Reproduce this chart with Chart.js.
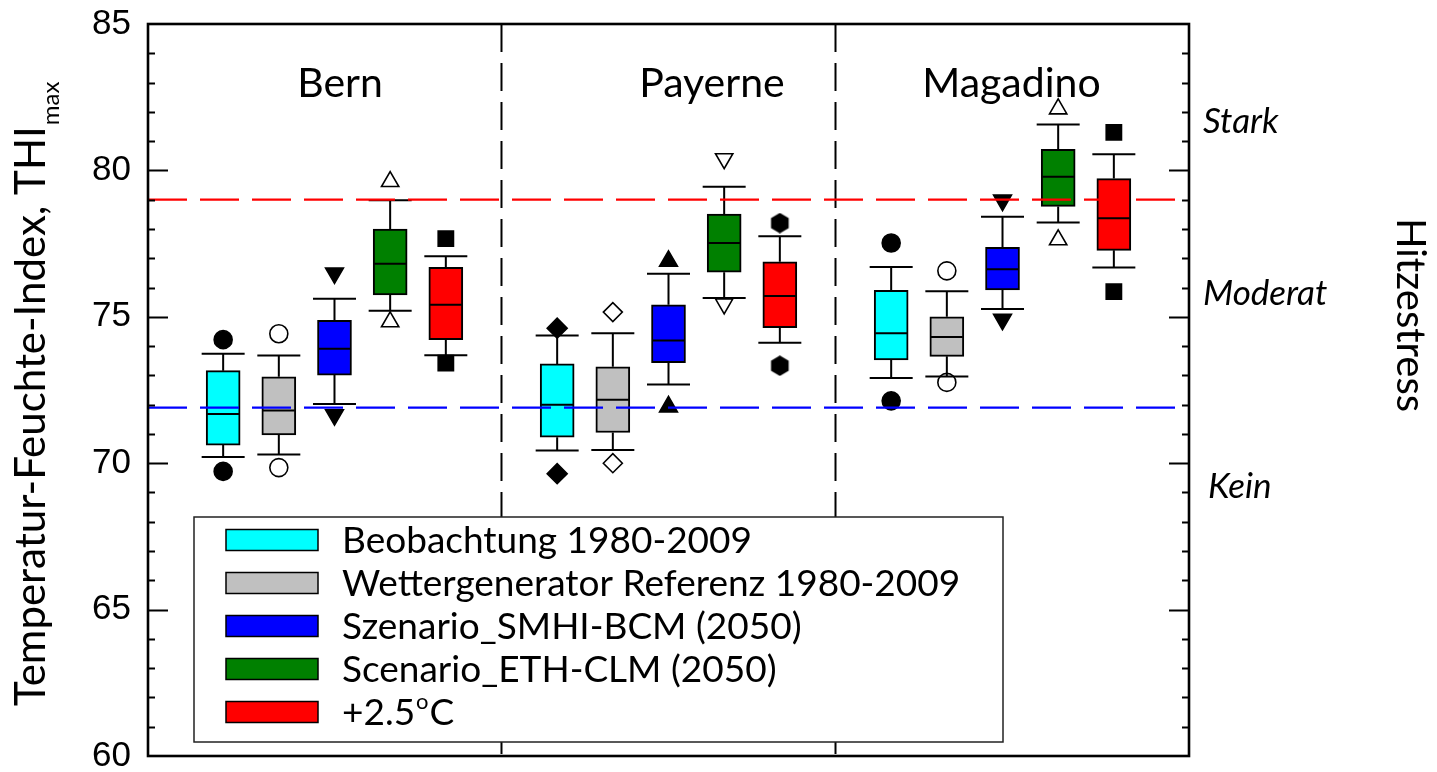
<!DOCTYPE html>
<html lang="de">
<head>
<meta charset="utf-8">
<title>Temperatur-Feuchte-Index THImax</title>
<script src="https://cdn.jsdelivr.net/npm/chart.js@4.4.1/dist/chart.umd.min.js"></script>
<style>
  html, body { margin: 0; padding: 0; background: #ffffff; }
  #wrap { width: 1437px; height: 772px; position: relative; }
</style>
</head>
<body>
<div id="wrap"><canvas id="thi" width="1437" height="772"></canvas></div>
<script>
// ---- data -----------------------------------------------------------------
const stations = ['Bern', 'Payerne', 'Magadino'];
const seriesNames = [
  'Beobachtung 1980-2009',
  'Wettergenerator Referenz 1980-2009',
  'Szenario_SMHI-BCM (2050)',
  'Scenario_ETH-CLM (2050)',
  '+2.5°C'
];

// per station: [lower point, lower whisker, Q1, median, Q3, upper whisker, upper point]
const beobachtung = [
  [69.72, 70.21, 70.62, 71.68, 73.16, 73.74, 74.22],
  [69.64, 70.43, 70.89, 72.00, 73.39, 74.36, 74.61],
  [72.13, 72.91, 73.53, 74.44, 75.90, 76.70, 77.52]
];
const wettergenerator = [
  [69.85, 70.30, 70.97, 71.80, 72.95, 73.68, 74.42],
  [70.00, 70.45, 71.05, 72.17, 73.29, 74.44, 75.16],
  [72.76, 72.96, 73.65, 74.31, 75.00, 75.87, 76.57]
];
const smhiBcm = [
  [71.65, 72.02, 73.01, 73.91, 74.88, 75.62, 76.49],
  [71.93, 72.69, 73.43, 74.19, 75.41, 76.47, 76.90],
  [74.91, 75.27, 75.92, 76.62, 77.37, 78.42, 78.98]
];
const ethClm = [
  [74.83, 75.21, 75.75, 76.81, 78.00, 78.98, 79.62],
  [75.44, 75.64, 76.52, 77.52, 78.51, 79.44, 80.40],
  [77.63, 78.22, 78.77, 79.78, 80.72, 81.57, 82.10]
];
const plus25 = [
  [73.42, 73.69, 74.22, 75.41, 76.69, 77.07, 77.67],
  [73.33, 74.11, 74.63, 75.71, 76.88, 77.75, 78.20],
  [75.86, 76.68, 77.27, 78.37, 79.72, 80.55, 81.30]
];

const stressThresholds = [79, 71.9];
const stressLevels = ['Stark', 'Moderat', 'Kein'];
const yTickLabels = [60, 65, 70, 75, 80, 85];

// ---- styling --------------------------------------------------------------
const seriesColors = ['#00ffff', '#c0c0c0', '#0000ff', '#008000', '#ff0000'];
const thresholdColors = ['#ff0000', '#0000ff'];
const markerShapes = [
  ['circle', 'rectRot', 'circle'],
  ['circle', 'rectRot', 'circle'],
  ['triangle', 'triangle', 'triangle'],
  ['triangle', 'triangle', 'triangle'],
  ['rect', 'hexagon', 'rect']
];
const markerRotation = [[0, 0, 0], [0, 0, 0], [180, 0, 180], [0, 180, 0], [0, 0, 0]];
const markerFilled = [true, false, true, false, true];

const SERIES = [beobachtung, wettergenerator, smhiBcm, ethClm, plus25];
const GROUP_STEP = 6;
const X_MIN = -0.35, X_MAX = 18.35;
const BOX_PX = 34, CAP_PX = 43;
const TITLE_X = [3.10, 9.78, 15.16];
const STRESS_LABEL_Y = [81.29, 75.41, 68.82];
const SANS = 'Lato, "Open Sans", sans-serif';

const boxPos = (s, k) => s * GROUP_STEP + k + 1;

function hexagonMarker(size) {
  const c = document.createElement('canvas');
  c.width = c.height = size;
  const g = c.getContext('2d');
  const r = size / 2;
  g.beginPath();
  for (let i = 0; i < 6; i++) {
    const a = Math.PI / 3 * i - Math.PI / 2;
    const px = r + (r - 0.3) * Math.cos(a);
    const py = r + (r - 0.3) * Math.sin(a);
    if (i) g.lineTo(px, py); else g.moveTo(px, py);
  }
  g.closePath();
  g.fillStyle = '#000';
  g.fill();
  return c;
}
const HEX = hexagonMarker(21);

function markerRadius(shape, filled) {
  switch (shape) {
    case 'circle': return 9;
    case 'rectRot': return filled ? 10 : 9.5;
    case 'triangle': return filled ? 10.3 : 10;
    case 'rect': return 10.8;
    default: return 10;
  }
}

// ---- datasets -------------------------------------------------------------
const datasets = [];

// station dividers
[1, 2].forEach(i => {
  datasets.push({
    type: 'line',
    data: [{ x: i * GROUP_STEP, y: 85 }, { x: i * GROUP_STEP, y: 60 }],
    borderColor: '#000', borderWidth: 2, borderDash: [28, 11],
    pointRadius: 0, order: 9
  });
});

// boxes (Q1..Q3); whiskers and medians are added by the plugin below
SERIES.forEach((stats, k) => {
  datasets.push({
    type: 'bar',
    label: seriesNames[k],
    data: stats.map((r, s) => ({ x: boxPos(s, k), y: [r[2], r[4]] })),
    backgroundColor: seriesColors[k],
    borderColor: '#000', borderWidth: 2, borderSkipped: false,
    barThickness: BOX_PX, grouped: false, order: 5,
    stats
  });
});

// extreme points
SERIES.forEach((stats, k) => {
  const shapeAt = ctx => markerShapes[k][Math.floor(ctx.dataIndex / 2)];
  datasets.push({
    type: 'scatter',
    data: stats.flatMap((r, s) => [{ x: boxPos(s, k), y: r[0] }, { x: boxPos(s, k), y: r[6] }]),
    pointStyle: ctx => (shapeAt(ctx) === 'hexagon' ? HEX : shapeAt(ctx)),
    rotation: ctx => markerRotation[k][Math.floor(ctx.dataIndex / 2)],
    pointRadius: ctx => markerRadius(shapeAt(ctx), markerFilled[k]),
    pointBackgroundColor: markerFilled[k] ? '#000' : '#fff',
    pointBorderColor: '#000', pointBorderWidth: 1.6,
    showLine: false, order: 7
  });
});

// heat-stress thresholds
stressThresholds.forEach((t, i) => {
  datasets.push({
    type: 'line',
    data: [{ x: X_MIN, y: t }, { x: X_MAX, y: t }],
    borderColor: thresholdColors[i], borderWidth: 2.2, borderDash: [39, 13],
    pointRadius: 0, order: 0
  });
});

// ---- plugins --------------------------------------------------------------
const whiskerPlugin = {
  id: 'whiskers',
  afterDatasetDraw(chart, args) {
    const ds = chart.data.datasets[args.index];
    if (!ds.stats) return;
    const ctx = chart.ctx;
    const y = chart.scales.y;
    ctx.save();
    ctx.strokeStyle = '#000';
    ctx.lineWidth = 2;
    ctx.lineCap = 'butt';
    args.meta.data.forEach((bar, i) => {
      const r = ds.stats[i];
      const cx = bar.x;
      const pLo = y.getPixelForValue(r[1]), pQ1 = y.getPixelForValue(r[2]);
      const pMed = y.getPixelForValue(r[3]), pQ3 = y.getPixelForValue(r[4]);
      const pHi = y.getPixelForValue(r[5]);
      ctx.beginPath();
      ctx.moveTo(cx, pQ3); ctx.lineTo(cx, pHi);
      ctx.moveTo(cx, pQ1); ctx.lineTo(cx, pLo);
      ctx.moveTo(cx - CAP_PX / 2, pHi); ctx.lineTo(cx + CAP_PX / 2, pHi);
      ctx.moveTo(cx - CAP_PX / 2, pLo); ctx.lineTo(cx + CAP_PX / 2, pLo);
      ctx.moveTo(cx - BOX_PX / 2 + 1, pMed); ctx.lineTo(cx + BOX_PX / 2 - 1, pMed);
      ctx.stroke();
    });
    ctx.restore();
  }
};

const framePlugin = {
  id: 'frame',
  afterDraw(chart) {
    const { ctx, chartArea: a, scales: { x, y } } = chart;
    ctx.save();
    ctx.strokeStyle = '#000';
    // inward tick marks on both vertical axes
    ctx.lineWidth = 2;
    ctx.beginPath();
    for (let v = 61; v < 85; v++) {
      const len = v % 5 === 0 ? 20 : 7;
      const py = Math.round(y.getPixelForValue(v)) + 0.5;
      ctx.moveTo(a.left, py); ctx.lineTo(a.left + len, py);
      ctx.moveTo(a.right, py); ctx.lineTo(a.right - len, py);
    }
    ctx.stroke();
    ctx.lineWidth = 2.6;
    ctx.strokeRect(a.left, a.top, a.right - a.left, a.bottom - a.top);

    ctx.fillStyle = '#000';
    // station titles
    ctx.font = '41px ' + SANS;
    ctx.textAlign = 'center';
    ctx.textBaseline = 'alphabetic';
    stations.forEach((s, i) => ctx.fillText(s, x.getPixelForValue(TITLE_X[i]), 97));

    // stress levels on the right
    ctx.font = 'italic 35px ' + SANS;
    ctx.textAlign = 'left';
    stressLevels.forEach((s, i) => {
      ctx.fillText(s, a.right + 14 + (i === 2 ? 5 : 0), y.getPixelForValue(STRESS_LABEL_Y[i]));
    });

    // right-hand axis title
    ctx.save();
    ctx.translate(1397, 315);
    ctx.rotate(Math.PI / 2);
    ctx.font = '40px ' + SANS;
    ctx.textAlign = 'center';
    ctx.fillText('Hitzestress', 0, 0);
    ctx.restore();

    // left axis title with subscript
    ctx.save();
    ctx.translate(45, 706);
    ctx.rotate(-Math.PI / 2);
    ctx.font = '42px ' + SANS;
    ctx.textAlign = 'left';
    const main = 'Temperatur-Feuchte-Index, THI';
    ctx.fillText(main, 0, 0);
    const w = ctx.measureText(main).width;
    ctx.font = '24px ' + SANS;
    ctx.fillText('max', w + 1, 14);
    ctx.restore();

    // legend
    const L = { left: 194, top: 517, right: 1003, bottom: 742 };
    ctx.fillStyle = '#fff';
    ctx.fillRect(L.left, L.top, L.right - L.left, L.bottom - L.top);
    ctx.lineWidth = 1.5;
    ctx.strokeStyle = '#222';
    ctx.strokeRect(L.left, L.top, L.right - L.left, L.bottom - L.top);
    ctx.textBaseline = 'middle';
    ctx.textAlign = 'left';
    seriesNames.forEach((name, k) => {
      const cy = 540 + k * 43;
      ctx.fillStyle = seriesColors[k];
      ctx.fillRect(226, cy - 10.5, 92, 21);
      ctx.strokeStyle = '#000';
      ctx.strokeRect(226, cy - 10.5, 92, 21);
      ctx.fillStyle = '#000';
      ctx.font = '37px ' + SANS;
      const deg = name.indexOf('°');
      if (deg < 0) {
        ctx.fillText(name, 342, cy + 1);
      } else {
        const head = name.slice(0, deg), tail = name.slice(deg + 1);
        ctx.fillText(head, 342, cy + 1);
        let px = 342 + ctx.measureText(head).width + 1;
        ctx.font = '22px ' + SANS;
        ctx.fillText('o', px, cy - 10);
        px += ctx.measureText('o').width + 1;
        ctx.font = '37px ' + SANS;
        ctx.fillText(tail, px, cy + 1);
      }
    });
    ctx.restore();
  }
};

// ---- chart ----------------------------------------------------------------
new Chart(document.getElementById('thi'), {
  type: 'bar',
  data: { datasets },
  options: {
    responsive: false,
    animation: false,
    devicePixelRatio: 1,
    layout: { padding: { left: 0, right: 248, top: 24, bottom: 16 } },
    plugins: { legend: { display: false }, tooltip: { enabled: false } },
    scales: {
      x: { type: 'linear', min: X_MIN, max: X_MAX, offset: false, display: false },
      y: {
        type: 'linear', min: 60, max: 85,
        afterFit(scale) {
          scale.width = 148;
          scale.paddingTop = 0;
          scale.paddingBottom = 0;
        },
        ticks: {
          stepSize: 5,
          padding: 17,
          color: '#000',
          font: { family: '"Liberation Sans", Arial, sans-serif', size: 35 },
          callback: v => (yTickLabels.includes(v) ? String(v) : '')
        },
        grid: { display: false, drawTicks: false },
        border: { display: false }
      }
    }
  },
  plugins: [whiskerPlugin, framePlugin]
});
</script>
</body>
</html>
